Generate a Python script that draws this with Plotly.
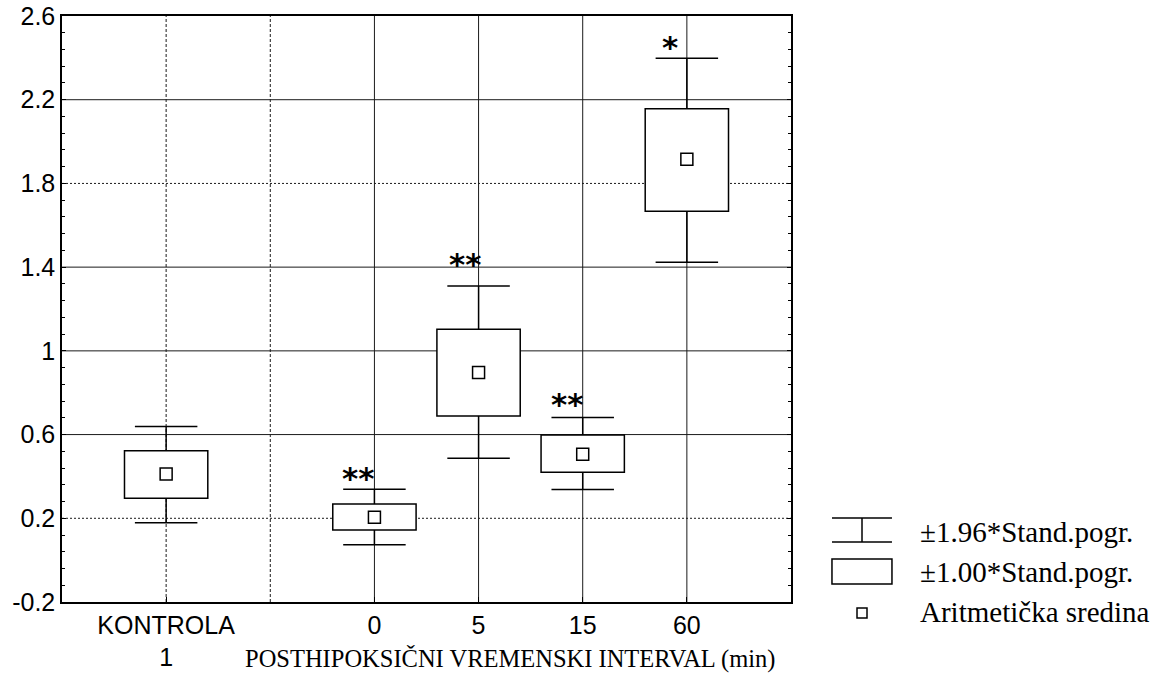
import plotly.graph_objects as go

# ---- data ----
categories = ["KONTROLA<br>1", "0", "5", "15", "60"]
cat_pos = [1, 3, 4, 5, 6]
means = [0.412, 0.205, 0.896, 0.506, 1.915]
box_lo = [0.296, 0.144, 0.689, 0.420, 1.667]
box_hi = [0.523, 0.268, 1.103, 0.598, 2.157]
whisk_lo = [0.179, 0.073, 0.487, 0.337, 1.423]
whisk_hi = [0.638, 0.339, 1.310, 0.681, 2.398]
stars = ["", "**", "**", "**", "*"]
star_y = [None, 0.423, 1.444, 0.776, 2.482]
star_shift = [0, 0, 2, 0, -9]
y_ticks = [-0.2, 0.2, 0.6, 1.0, 1.4, 1.8, 2.2, 2.6]
y_ticktext = ["-0.2", "0.2", "0.6", "1", "1.4", "1.8", "2.2", "2.6"]
y_grid = [0.2, 0.6, 1.0, 1.4, 1.8, 2.2]
y_grid_dash = ["2px,2px", "solid", "solid", "solid", "2px,2px", "solid"]
x_grid = [1, 2, 3, 4, 5, 6]
x_grid_dash = ["3px,2px", "3px,2px", "solid", "solid", "solid", "solid"]
legend_labels = ["±1.96*Stand.pogr.", "±1.00*Stand.pogr.", "Aritmetička sredina"]
x_title = "POSTHIPOKSIČNI VREMENSKI INTERVAL (min)"

BOX_W = 0.8
CAP_W = 0.6

fig = go.Figure()

# boxes (±1.00 SE)
fig.add_trace(go.Bar(
    x=cat_pos, y=[h - l for h, l in zip(box_hi, box_lo)], base=box_lo,
    width=BOX_W, marker=dict(color="white", line=dict(color="black", width=1.5)),
    showlegend=False, hoverinfo="skip"))

# whiskers (±1.96 SE)
wx, wy = [], []
for p, bl, bh, wl, wh in zip(cat_pos, box_lo, box_hi, whisk_lo, whisk_hi):
    wx += [p, p, None, p - CAP_W / 2, p + CAP_W / 2, None,
           p, p, None, p - CAP_W / 2, p + CAP_W / 2, None]
    wy += [bh, wh, None, wh, wh, None, bl, wl, None, wl, wl, None]
fig.add_trace(go.Scatter(x=wx, y=wy, mode="lines",
                         line=dict(color="black", width=1.5),
                         showlegend=False, hoverinfo="skip"))

# means
fig.add_trace(go.Scatter(x=cat_pos, y=means, mode="markers",
                         marker=dict(symbol="square-open", size=12, color="black",
                                     line=dict(width=1.5)),
                         showlegend=False, hoverinfo="skip"))

shapes = []
for yv, d in zip(y_grid, y_grid_dash):
    shapes.append(dict(type="line", xref="paper", x0=0, x1=1, yref="y", y0=yv, y1=yv,
                       layer="below", line=dict(color="#1a1a1a", width=1, dash=d)))
for xv, d in zip(x_grid, x_grid_dash):
    shapes.append(dict(type="line", yref="paper", y0=0, y1=1, xref="x", x0=xv, x1=xv,
                       layer="below", line=dict(color="#1a1a1a", width=1, dash=d)))

# legend symbols (paper coords)
lx0, lx1, lxc = 1.0562, 1.1385, 1.0974
shapes += [
    dict(type="line", xref="paper", yref="paper", x0=lx0, x1=lx1, y0=0.1433, y1=0.1433,
         line=dict(color="black", width=1.5)),
    dict(type="line", xref="paper", yref="paper", x0=lx0, x1=lx1, y0=0.1024, y1=0.1024,
         line=dict(color="black", width=1.5)),
    dict(type="line", xref="paper", yref="paper", x0=lxc, x1=lxc, y0=0.1024, y1=0.1433,
         line=dict(color="black", width=1.5)),
    dict(type="rect", xref="paper", yref="paper", x0=lx0, x1=lx1, y0=0.0307, y1=0.0734,
         line=dict(color="black", width=1.5), fillcolor="white"),
    dict(type="rect", xref="paper", yref="paper", xsizemode="pixel", ysizemode="pixel",
         xanchor=lxc, yanchor=-0.0188, x0=-5, x1=5, y0=-5, y1=5,
         line=dict(color="black", width=1.5), fillcolor="white"),
]

annotations = []
for p, s, sy, sh in zip(cat_pos, stars, star_y, star_shift):
    if s:
        annotations.append(dict(x=p, y=sy, xref="x", yref="y", text="<b>" + s + "</b>",
                                showarrow=False,
                                xanchor="right", yanchor="middle", xshift=sh + 2, yshift=-6,
                                font=dict(family="DejaVu Sans", size=31, color="black")))
for lab, yp in zip(legend_labels, [0.1195, 0.0512, -0.0171]):
    annotations.append(dict(x=1.1742, y=yp, xref="paper", yref="paper", text=lab,
                            showarrow=False, xanchor="left", yanchor="middle",
                            font=dict(family="Liberation Serif", size=29, color="black")))
annotations.append(dict(x=0.6145, y=-0.0973, xref="paper", yref="paper", text=x_title,
                        showarrow=False, xanchor="center", yanchor="middle",
                        font=dict(family="Liberation Serif", size=24.5, color="black")))

fig.update_layout(
    width=1171, height=684,
    margin=dict(l=62, r=380, t=16, b=82),
    paper_bgcolor="white", plot_bgcolor="white",
    showlegend=False, hovermode=False,
    shapes=shapes, annotations=annotations,
    xaxis=dict(range=[0, 7], tickmode="array", tickvals=cat_pos, ticktext=categories,
               ticks="inside", ticklen=5, tickcolor="black", showgrid=False, zeroline=False,
               showline=True, mirror=True, linecolor="black", linewidth=1.5,
               automargin=False, ticklabeloverflow="allow",
               tickfont=dict(family="Liberation Sans", size=25, color="black")),
    yaxis=dict(range=[-0.2, 2.6], tickmode="array", tickvals=y_ticks, ticktext=y_ticktext,
               ticks="inside", ticklen=4, tickcolor="black", showgrid=False, zeroline=False,
               showline=True, mirror="allticks", linecolor="black", linewidth=1.5,
               automargin=False, ticklabeloverflow="allow",
               minor=dict(ticks="inside", ticklen=3, tick0=-0.2, dtick=0.08,
                          tickcolor="black", showgrid=False),
               tickfont=dict(family="Liberation Sans", size=25, color="black")),
)

# remove the default 8px page margin so the figure fills the window exactly
fig.write_html("out.html", config={"displayModeBar": False},
               post_script="document.body.style.margin='0';document.body.style.overflow='hidden';")
